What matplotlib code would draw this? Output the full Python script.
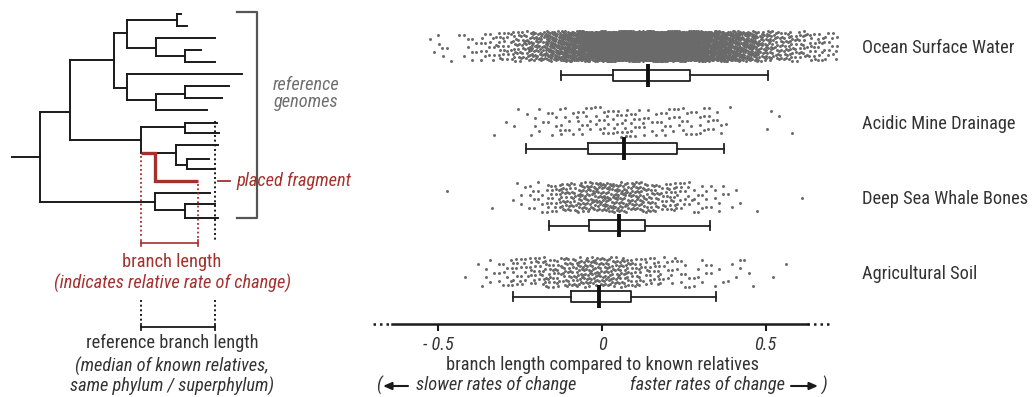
import numpy as np
import matplotlib
matplotlib.use("Agg")
import matplotlib.pyplot as plt
from matplotlib import font_manager as fm

# ---------------- data ----------------
groups = ["Ocean Surface Water", "Acidic Mine Drainage",
          "Deep Sea Whale Bones", "Agricultural Soil"]

bin_width = 0.05
ocean_bins = [-0.50, -0.45, -0.40, -0.35, -0.30, -0.25, -0.20, -0.15, -0.10, -0.05,
              0.00, 0.05, 0.10, 0.15, 0.20, 0.25, 0.30, 0.35, 0.40, 0.45,
              0.50, 0.55, 0.60, 0.65, 0.70]
ocean_counts = [6, 3, 9, 16, 26, 40, 60, 95, 150, 220,
                290, 340, 370, 375, 355, 315, 260, 205, 150, 100,
                60, 42, 32, 26, 16]

acidic_bins = [-0.35, -0.30, -0.25, -0.20, -0.15, -0.10, -0.05, 0.00, 0.05, 0.10,
               0.15, 0.20, 0.25, 0.30, 0.35, 0.40, 0.45, 0.50, 0.55, 0.60]
acidic_counts = [1, 1, 3, 6, 8, 10, 12, 14, 16, 14,
                 10, 12, 12, 10, 8, 2, 0, 2, 1, 1]

deep_bins = [-0.45, -0.40, -0.35, -0.30, -0.25, -0.20, -0.15, -0.10, -0.05, 0.00,
             0.05, 0.10, 0.15, 0.20, 0.25, 0.30, 0.35, 0.40, 0.45, 0.50, 0.55, 0.60]
deep_counts = [1, 0, 1, 0, 5, 12, 24, 38, 50, 55,
               55, 48, 38, 27, 18, 12, 8, 4, 1, 0, 0, 1]

soil_bins = [-0.40, -0.35, -0.30, -0.25, -0.20, -0.15, -0.10, -0.05, 0.00, 0.05,
             0.10, 0.15, 0.20, 0.25, 0.30, 0.35, 0.40, 0.45, 0.50, 0.55]
soil_counts = [2, 6, 12, 20, 25, 32, 38, 48, 48, 42,
               32, 22, 14, 10, 8, 5, 5, 3, 1, 1]

box_whislo = [-0.126, -0.232, -0.162, -0.273]
box_q1 = [0.033, -0.042, -0.039, -0.094]
box_med = [0.140, 0.068, 0.052, -0.010]
box_q3 = [0.269, 0.230, 0.132, 0.089]
box_whishi = [0.508, 0.373, 0.330, 0.348]

tick_values = [-0.5, 0.0, 0.5]
tick_labels = ["- 0.5", "0", "0.5"]

# ---------------- style ----------------
names = {f.name for f in fm.fontManager.ttflist}
FONT, FS = "Liberation Sans", 11.5
for cand, size in [("Liberation Sans Narrow", 14), ("Arial Narrow", 14),
                   ("Roboto Condensed", 13.2), ("Archivo Narrow", 13.5)]:
    if cand in names:
        FONT, FS = cand, size
        break
plt.rcParams["font.family"] = [FONT, "DejaVu Sans"]

RED = "#a5302c"
DARK = "#333333"
GRAY_TXT = "#6f6f6f"
DOT = "#6a6a6a"

W, H = 1034, 397
fig = plt.figure(figsize=(W / 100, H / 100), dpi=100)

# overlay axes in pixel coordinates (schematic tree + notes)
ov = fig.add_axes([0, 0, 1, 1])
ov.set_xlim(0, W)
ov.set_ylim(H, 0)
ov.axis("off")

tree_black = [
    ((12, 157), (40, 157)), ((40, 112), (40, 202)), ((40, 112), (70, 112)),
    ((70, 60), (70, 140)), ((70, 60), (114, 60)), ((114, 33), (114, 88)),
    ((114, 33), (127, 33)), ((127, 20), (127, 48)), ((127, 20), (177, 20)),
    ((177, 14), (177, 26)), ((177, 14), (181, 14)), ((177, 26), (187, 26)),
    ((127, 48), (156, 48)), ((156, 38), (156, 56)), ((156, 38), (215, 38)),
    ((156, 56), (185, 56)), ((185, 50), (185, 62)), ((185, 50), (201, 50)),
    ((185, 62), (215, 62)), ((114, 88), (127, 88)), ((127, 74), (127, 100)),
    ((127, 74), (242, 74)), ((127, 100), (156, 100)), ((156, 94), (156, 110)),
    ((156, 94), (185, 94)), ((185, 86), (185, 98)), ((185, 86), (229, 86)),
    ((185, 98), (222, 98)), ((156, 110), (207, 110)),
    ((70, 140), (141, 140)), ((141, 127), (141, 153)), ((141, 127), (185, 127)),
    ((185, 123), (185, 133)), ((185, 123), (217, 123)), ((185, 133), (219, 133)),
    ((155, 153), (176, 153)), ((176, 145), (176, 165)), ((176, 145), (218, 145)),
    ((176, 165), (187, 165)), ((187, 159), (187, 169)), ((187, 159), (209, 159)),
    ((187, 169), (215, 169)),
    ((40, 202), (155, 202)), ((155, 193), (155, 210)), ((155, 193), (210, 193)),
    ((155, 210), (185, 210)), ((185, 204), (185, 218)), ((185, 204), (215, 204)),
    ((185, 218), (218, 218)),
]
for (x0, y0), (x1, y1) in tree_black:
    ov.plot([x0, x1], [y0, y1], color="#1a1a1a", lw=1.4, solid_capstyle="projecting")

ov.plot([141, 155, 155, 198], [153, 153, 181, 181], color=RED, lw=2.4,
        solid_joinstyle="miter", solid_capstyle="butt")

dots = (0, (1.0, 1.4))
ov.plot([141, 141], [156, 238], color=RED, lw=1.3, ls=dots)
ov.plot([198, 198], [184, 238], color=RED, lw=1.3, ls=dots)
ov.plot([215, 215], [121, 240], color="#1a1a1a", lw=1.4, ls=dots)
ov.plot([141, 198], [243, 243], color=RED, lw=1.2)
ov.plot([141, 141], [240, 246], color=RED, lw=1.2)
ov.plot([198, 198], [240, 246], color=RED, lw=1.2)

ov.plot([141, 141], [300, 323], color="#1a1a1a", lw=1.4, ls=dots)
ov.plot([215, 215], [300, 323], color="#1a1a1a", lw=1.4, ls=dots)
ov.plot([141, 215], [327, 327], color="#1a1a1a", lw=1.3)
ov.plot([141, 141], [324, 330], color="#1a1a1a", lw=1.3)
ov.plot([215, 215], [324, 330], color="#1a1a1a", lw=1.3)

ov.plot([237, 257, 257, 237], [12, 12, 218, 218], color="#555555", lw=1.6)
ov.text(306, 85, "reference", color=GRAY_TXT, fontsize=FS, style="italic",
        ha="center", va="center")
ov.text(306, 102, "genomes", color=GRAY_TXT, fontsize=FS, style="italic",
        ha="center", va="center")

ov.plot([218, 230], [181, 181], color=RED, lw=1.3)
ov.text(236, 181, "placed fragment", color=RED, fontsize=FS, style="italic",
        ha="left", va="center")

ov.text(172, 262, "branch length", color=RED, fontsize=FS, ha="center", va="center")
ov.text(172, 283, "(indicates relative rate of change)", color=RED, fontsize=FS,
        style="italic", ha="center", va="center")
ov.text(172, 343, "reference branch length", color=DARK, fontsize=FS,
        ha="center", va="center")
ov.text(172, 366, "(median of known relatives,", color=DARK, fontsize=FS,
        style="italic", ha="center", va="center")
ov.text(172, 386, "same phylum / superphylum)", color=DARK, fontsize=FS,
        style="italic", ha="center", va="center")

# ---------------- right panel ----------------
X0, X1 = 370, 845
ZERO, SCALE = 602.0, 327.4
ax = fig.add_axes([X0 / W, 0, (X1 - X0) / W, 1])
ax.set_facecolor("none")
ax.set_xlim((X0 - ZERO) / SCALE, (X1 - ZERO) / SCALE)
ax.set_ylim(H, 0)

band_y = [46, 122, 197, 272]
box_y = [75.3, 148.7, 225.7, 296.7]
half_band = 15.0

all_bins = [ocean_bins, acidic_bins, deep_bins, soil_bins]
all_counts = [ocean_counts, acidic_counts, deep_counts, soil_counts]
for gi, (bins, counts) in enumerate(zip(all_bins, all_counts)):
    centers = np.repeat(np.asarray(bins, float), counts)
    k = np.arange(1, centers.size + 1)
    u = (k * 0.7548776662466927 + 0.13 * gi) % 1.0
    v = (k * 0.5698402909980532 + 0.37 * gi) % 1.0
    xs = centers + (u - 0.5) * bin_width
    ys = band_y[gi] + (v - 0.5) * 2 * half_band
    ax.scatter(xs, ys, s=4.6, color=DOT, linewidths=0, zorder=2, clip_on=False)

stats = [dict(whislo=a, q1=b, med=c, q3=d, whishi=e, fliers=[])
         for a, b, c, d, e in zip(box_whislo, box_q1, box_med, box_q3, box_whishi)]
lp = dict(color="#222222", lw=1.3)
ax.bxp(stats, positions=box_y, widths=10.7, orientation="horizontal",
       showfliers=False, boxprops=lp, whiskerprops=lp, capprops=lp,
       medianprops=dict(lw=0), capwidths=9, manage_ticks=False, zorder=3)
ax.vlines(box_med, np.array(box_y) - 11.5, np.array(box_y) + 11.5,
          color="#111111", lw=2.8, zorder=4)

# axis
for s in ["top", "left", "right"]:
    ax.spines[s].set_visible(False)
ax.spines["bottom"].set_position(("data", 324))
ax.spines["bottom"].set_bounds(-0.6414, 0.626)
ax.spines["bottom"].set_linewidth(1.8)
ax.spines["bottom"].set_color("#1a1a1a")
ax.plot([(373 - ZERO) / SCALE, -0.6414], [324, 324], color="#1a1a1a", lw=1.8,
        ls=(0, (1, 1.6)), clip_on=False)
ax.plot([0.626, (832 - ZERO) / SCALE], [324, 324], color="#1a1a1a", lw=1.8,
        ls=(0, (1, 1.6)), clip_on=False)
ax.set_xticks(tick_values)
ax.set_xticklabels(tick_labels, fontsize=FS, style="italic", color=DARK)
ax.tick_params(axis="x", length=5, width=1.5, color="#1a1a1a", pad=4)

ax.yaxis.tick_right()
ax.set_yticks(band_y)
ax.set_yticklabels(groups, fontsize=FS, color=DARK)
ax.tick_params(axis="y", length=0, pad=12)

ax.text(0.0, 365, "branch length compared to known relatives", fontsize=FS,
        color=DARK, ha="center", va="center")

ov.text(376, 385, "(", fontsize=FS, style="italic", color=DARK, ha="left", va="center")
ov.annotate("", xy=(383, 386), xytext=(408, 386),
            arrowprops=dict(arrowstyle="-|>,head_length=0.5,head_width=0.22",
                            color="#1a1a1a", lw=1.5, shrinkA=0, shrinkB=0))
ov.text(416, 385, "slower rates of change", fontsize=FS, style="italic",
        color=DARK, ha="left", va="center")
ov.text(630, 385, "faster rates of change", fontsize=FS, style="italic",
        color=DARK, ha="left", va="center")
ov.annotate("", xy=(818, 386), xytext=(791, 386),
            arrowprops=dict(arrowstyle="-|>,head_length=0.5,head_width=0.22",
                            color="#1a1a1a", lw=1.5, shrinkA=0, shrinkB=0))
ov.text(822, 385, ")", fontsize=FS, style="italic", color=DARK, ha="left", va="center")

fig.savefig("out.png", dpi=100)
